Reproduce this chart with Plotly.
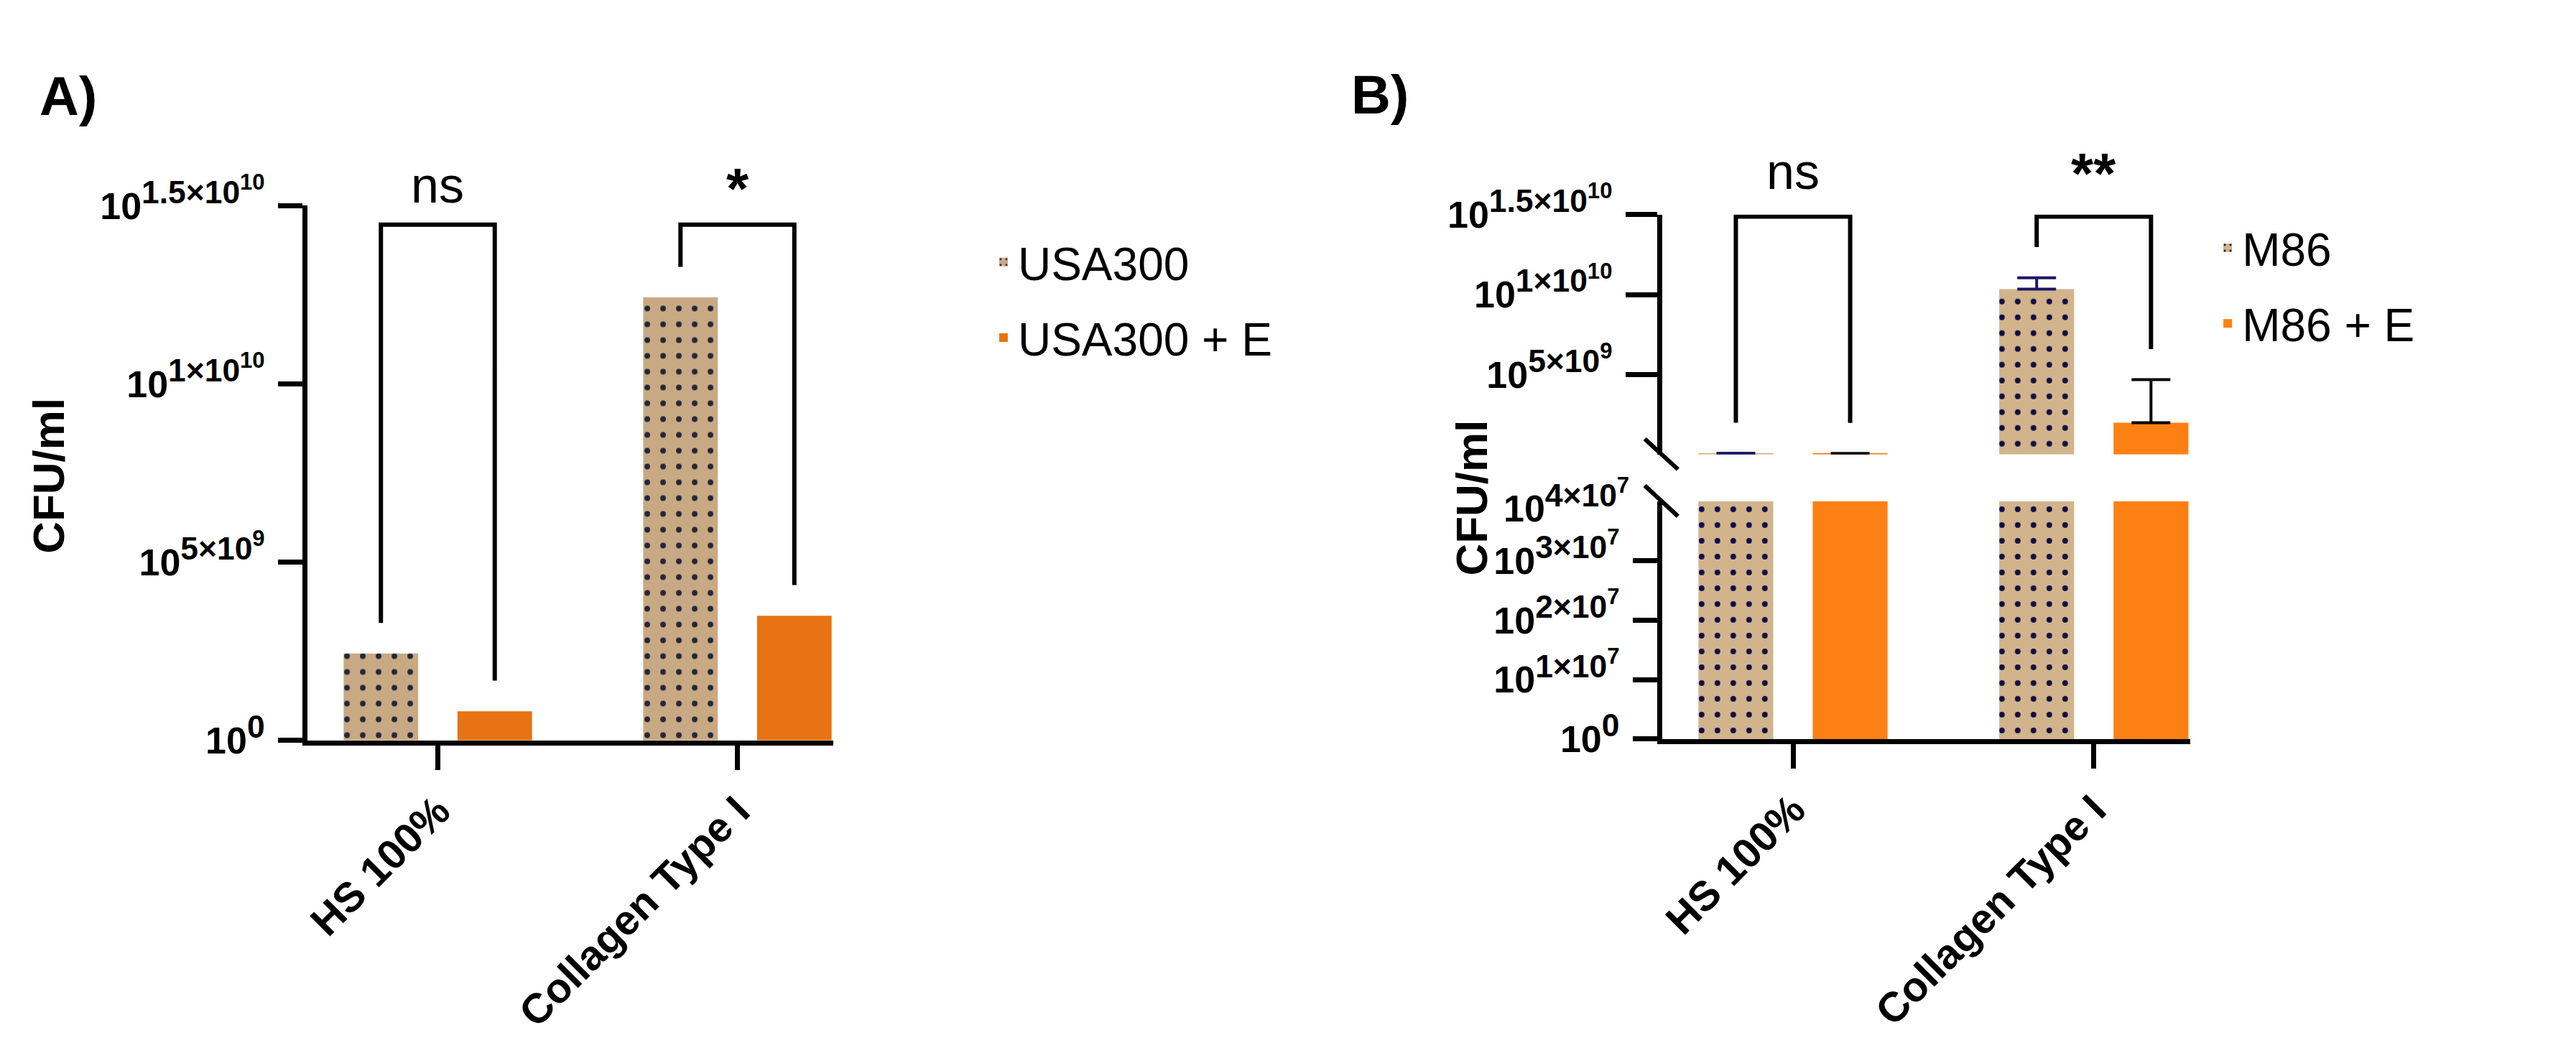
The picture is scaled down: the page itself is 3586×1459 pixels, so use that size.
import plotly.graph_objects as go

# ---------------- data ----------------
categories = ["HS 100%", "Collagen Type I"]

series_a = ["USA300", "USA300 + E"]
usa300 = [2.44e9, 1.243e10]
usa300_e = [0.82e9, 3.5e9]
sig_a = ["ns", "*"]

series_b = ["M86", "M86 + E"]
m86 = [5.5e7, 1.034e10]
m86_err = [1.5e7, 7.1e8]
m86_e = [5.0e7, 1.98e9]
m86_e_err = [0.8e7, 2.70e9]
sig_b = ["ns", "**"]

ticks_a_vals = [0, 5e9, 1e10, 1.5e10]
ticks_a_exp = [("0", ""), ("5×10", "9"), ("1×10", "10"), ("1.5×10", "10")]
ticks_b_low_vals = [0, 1e7, 2e7, 3e7]
ticks_b_low_exp = [("0", ""), ("1×10", "7"), ("2×10", "7"), ("3×10", "7")]
ticks_b_break_exp = [("4×10", "7")]
ticks_b_up_vals = [5e9, 1e10, 1.5e10]
ticks_b_up_exp = [("5×10", "9"), ("1×10", "10"), ("1.5×10", "10")]

def tick_label(exp):
    mant, inner = exp
    inner_html = f"<sup>{inner}</sup>" if inner else ""
    return f"10<sup><span style='font-size:122%'>{mant}{inner_html}</span></sup>"

ticks_a_text = [tick_label(e) for e in ticks_a_exp]
ticks_b_low_text = [tick_label(e) for e in ticks_b_low_exp]
ticks_b_break_text = [tick_label(e) for e in ticks_b_break_exp]
ticks_b_up_text = [tick_label(e) for e in ticks_b_up_exp]

# ---------------- geometry / style ----------------
W, H = 3586, 1459
def px(x):
    return x / W
def py(y):
    return 1 - y / H

NARROW = "Liberation Sans Narrow, Arial Narrow, Liberation Sans, sans-serif"
SANS = "Liberation Sans, Arial, sans-serif"

TAN_A, DOT_A, ORANGE_A = "#C9A983", "#232736", "#E77312"
TAN_B, DOT_B, ORANGE_B = "#D2B48C", "#120D45", "#FD8014"
NAVY = "#1B1766"

BARGAP, GROUPGAP = 0.24, 0.345
OFF = (1 - BARGAP) / 4          # bar centre offset from the category centre
XR = [-0.435, 1.321]

def pattern(dot, tan):
    return dict(shape=".", fgcolor=dot, bgcolor=tan, size=22, solidity=0.10, fillmode="replace")

fig = go.Figure()

# Panel A
fig.add_trace(go.Bar(x=categories, y=usa300, name=series_a[0], xaxis="x", yaxis="y",
                     marker=dict(color=TAN_A, line=dict(width=0), pattern=pattern(DOT_A, TAN_A)),
                     legend="legend", legendgroup="a1"))
fig.add_trace(go.Bar(x=categories, y=usa300_e, name=series_a[1], xaxis="x", yaxis="y",
                     marker=dict(color=ORANGE_A, line=dict(width=0)),
                     legend="legend", legendgroup="a2"))

# Panel B lower segment
fig.add_trace(go.Bar(x=categories, y=m86, name=series_b[0], xaxis="x2", yaxis="y2",
                     marker=dict(color=TAN_B, line=dict(width=0), pattern=pattern(DOT_B, TAN_B)),
                     showlegend=False))
fig.add_trace(go.Bar(x=categories, y=m86_e, name=series_b[1], xaxis="x2", yaxis="y2",
                     marker=dict(color=ORANGE_B, line=dict(width=0)), showlegend=False))
# Panel B upper segment
fig.add_trace(go.Bar(x=categories, y=m86, name=series_b[0], xaxis="x2", yaxis="y3",
                     marker=dict(color=TAN_B, line=dict(width=0), pattern=pattern(DOT_B, TAN_B)),
                     error_y=dict(type="data", symmetric=False, array=m86_err,
                                  arrayminus=[0] * len(m86_err), color=NAVY, thickness=4, width=27),
                     legend="legend2", legendgroup="b1"))
fig.add_trace(go.Bar(x=categories, y=m86_e, name=series_b[1], xaxis="x2", yaxis="y3",
                     marker=dict(color=ORANGE_B, line=dict(width=0)),
                     error_y=dict(type="data", symmetric=False, array=m86_e_err,
                                  arrayminus=[0] * len(m86_e_err), color="black", thickness=4, width=27),
                     legend="legend2", legendgroup="b2"))

tickfont = dict(family=NARROW, size=52, color="black", weight="bold")
catfont = dict(family=SANS, size=58, color="black", weight="bold")
AX = dict(showgrid=False, zeroline=False, showline=True, linecolor="black", linewidth=7,
          ticks="outside", tickcolor="black", tickwidth=7)

fig.update_layout(
    width=W, height=H, autosize=False,
    margin=dict(l=0, r=0, t=0, b=0),
    paper_bgcolor="white", plot_bgcolor="white",
    barmode="group", bargap=BARGAP, bargroupgap=GROUPGAP,
    xaxis=dict(AX, domain=[px(421), px(1155)], anchor="y", type="category", range=XR,
               ticklen=34, tickangle=-45, tickfont=catfont),
    yaxis=dict(AX, domain=[py(1037), py(250)], anchor="x", range=[0, 1.5e10],
               tickvals=ticks_a_vals, ticktext=ticks_a_text, ticklen=34, tickfont=tickfont,
               ticklabelstandoff=8),
    xaxis2=dict(AX, domain=[px(2311), px(3048)], anchor="y2", type="category", range=XR,
                ticklen=34, tickangle=-45, tickfont=catfont),
    yaxis2=dict(AX, domain=[py(1035), py(685)], anchor="x2", range=[0, 4e7],
                tickvals=ticks_b_low_vals, ticktext=ticks_b_low_text, ticklen=34,
                tickfont=tickfont, ticklabelstandoff=8),
    yaxis3=dict(AX, domain=[py(616), py(263)], anchor="x2", range=[0, 1.5e10],
                tickvals=ticks_b_up_vals, ticktext=ticks_b_up_text, ticklen=44,
                tickfont=tickfont, ticklabelstandoff=8),
    legend=dict(x=px(1372), y=py(282), xanchor="left", yanchor="top",
                font=dict(family=NARROW, size=64, color="black"), tracegroupgap=19,
                bgcolor="rgba(0,0,0,0)", itemclick=False),
    legend2=dict(x=px(3080), y=py(261), xanchor="left", yanchor="top",
                 font=dict(family=NARROW, size=64, color="black"), tracegroupgap=19,
                 bgcolor="rgba(0,0,0,0)", itemclick=False),
    showlegend=True,
)

shapes = []
annotations = []

def bracket(xref, yref, idx, left_top, right_top, top, gap, label, lsize, lshift):
    x0, x1 = idx - OFF, idx + OFF
    path = f"M {x0},{left_top + gap} L {x0},{top} L {x1},{top} L {x1},{right_top + gap}"
    shapes.append(dict(type="path", path=path, xref=xref, yref=yref,
                       line=dict(color="black", width=6), layer="above"))
    annotations.append(dict(x=idx, y=top, xref=xref, yref=yref, text=label, showarrow=False,
                            xanchor="center", yanchor="bottom", yshift=lshift,
                            font=dict(family=NARROW, size=lsize, color="black",
                                      weight="bold" if label != "ns" else "normal")))

# Panel A brackets (legs stop ~45 px above the bars)
gap_a = 45 / 787 * 1.5e10
top_a = 1.447e10
for i in range(len(categories)):
    bracket("x", "y", i, usa300[i], usa300_e[i], top_a, gap_a, sig_a[i],
            70 if sig_a[i] == "ns" else 80, 14 if sig_a[i] == "ns" else 4)

# Panel B brackets (upper segment, kept inside the axis range)
gap_b = 45 / 353 * 1.5e10
top_b = 1.5e10 * (1 - 3 / 353)
for i in range(len(categories)):
    bracket("x2", "y3", i, m86[i] + m86_err[i], m86_e[i] + m86_e_err[i], top_b, gap_b, sig_b[i],
            70 if sig_b[i] == "ns" else 80, 22 if sig_b[i] == "ns" else 14)

# axis break marks
shapes.append(dict(type="line", xref="x2 domain", yref="y3 domain", x0=-0.033, y0=0.065,
                   x1=0.030, y1=-0.062, line=dict(color="black", width=6)))
shapes.append(dict(type="line", xref="x2 domain", yref="y2 domain", x0=-0.033, y0=1.066,
                   x1=0.030, y1=0.937, line=dict(color="black", width=6)))

# tick label at the top of the lower segment (no tick mark there, like the original)
annotations.append(dict(x=px(2311 - 34 - 10), y=1, xref="paper", yref="y2 domain",
                        text=ticks_b_break_text[0], showarrow=False,
                        xanchor="right", yanchor="middle", font=tickfont))

# axis titles and panel labels
annotations.append(dict(x=px(60), y=py(647), xref="paper", yref="paper", text="CFU/ml",
                        textangle=-90, showarrow=False, xanchor="center", yanchor="middle",
                        font=dict(family=SANS, size=62, color="black", weight="bold")))
annotations.append(dict(x=px(2045), y=py(680), xref="paper", yref="paper", text="CFU/ml",
                        textangle=-90, showarrow=False, xanchor="center", yanchor="middle",
                        font=dict(family=SANS, size=62, color="black", weight="bold")))
annotations.append(dict(x=px(45), y=py(88), xref="paper", yref="paper", text="A)",
                        xanchor="left", yanchor="middle", showarrow=False,
                        font=dict(family=NARROW, size=76, color="black", weight="bold")))
annotations.append(dict(x=px(1875), y=py(86), xref="paper", yref="paper", text="B)",
                        xanchor="left", yanchor="middle", showarrow=False,
                        font=dict(family=NARROW, size=76, color="black", weight="bold")))

fig.update_layout(shapes=shapes, annotations=annotations)

fig.write_html("out.html", config={"displayModeBar": False},
               post_script="document.body.style.margin='0';")
